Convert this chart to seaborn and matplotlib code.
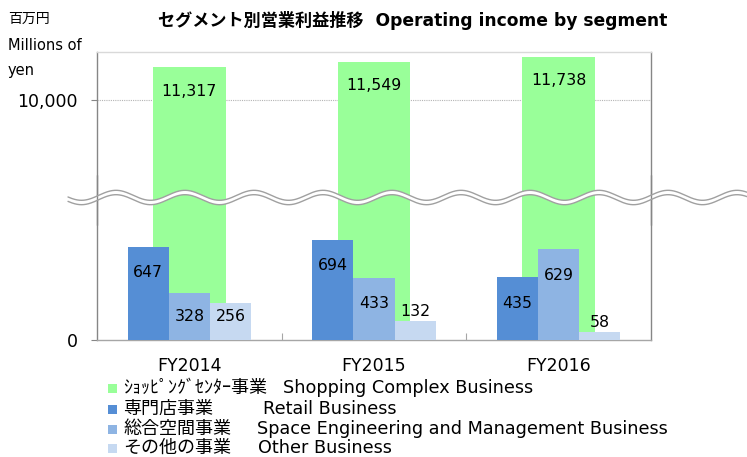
import numpy as np
import pandas as pd
import matplotlib
matplotlib.use('Agg')
import matplotlib.pyplot as plt
import seaborn as sns
from matplotlib.patches import Polygon, Rectangle
from matplotlib.lines import Line2D

# ---------------- data ----------------
years = ['FY2014', 'FY2015', 'FY2016']
shopping = [11317, 11549, 11738]
retail = [647, 694, 435]
space = [328, 433, 629]
other = [256, 132, 58]
seg_jp = ['ｼｮｯﾋﾟﾝｸﾞｾﾝﾀｰ事業', '専門店事業', '総合空間事業', 'その他の事業']
seg_en = ['Shopping Complex Business', 'Retail Business',
          'Space Engineering and Management Business', 'Other Business']
colors = ['#99FF99', '#558ED5', '#8EB4E3', '#C6D9F1']
title_jp = 'セグメント別営業利益推移'
title_en = 'Operating income by segment'
unit_lines = ['百万円', 'Millions of', 'yen']

# ---------------- style ----------------
sns.set_theme(style='white')
plt.rcParams['font.family'] = ['DejaVu Sans', 'Noto Sans CJK JP']
plt.rcParams['axes.unicode_minus'] = False

W, H = 747, 457
fig = plt.figure(figsize=(W / 100, H / 100), dpi=100)


def fx(px):
    return px / W


def fy(py):
    return 1 - py / H


L, R = 97, 651
T, B = 52, 340
BRK = 197.5
ax_top = fig.add_axes([fx(L), fy(BRK), fx(R - L), (BRK - T) / H])
ax_bot = fig.add_axes([fx(L), fy(B), fx(R - L), (B - BRK) / H])

df_green = pd.DataFrame({'year': years, 'value': shopping})
df_small = pd.DataFrame({
    'year': years * 3,
    'segment': [seg_en[1]] * 3 + [seg_en[2]] * 3 + [seg_en[3]] * 3,
    'value': retail + space + other,
})

for ax in (ax_top, ax_bot):
    sns.barplot(data=df_green, x='year', y='value', color=colors[0], width=0.395,
                saturation=1, errorbar=None, ax=ax, linewidth=0, zorder=2)
sns.barplot(data=df_small, x='year', y='value', hue='segment', hue_order=seg_en[1:],
            palette=colors[1:], width=0.667, saturation=1, errorbar=None, ax=ax_bot,
            legend=False, linewidth=0, zorder=3)

ax_top.set_ylim(5992, 11943)
ax_bot.set_ylim(0, 989)
for ax in (ax_top, ax_bot):
    ax.set_xlim(-0.5, 2.5)
    ax.set_xlabel('')
    ax.set_ylabel('')
    ax.set_facecolor('white')

# grid line at 10,000
ax_top.axhline(10000, color='#b4b4b4', lw=0.8, ls=(0, (1, 1)), zorder=1)

# y ticks
ax_top.set_yticks([10000])
ax_top.set_yticklabels(['10,000'])
ax_bot.set_yticks([0])
ax_bot.set_yticklabels(['0'])
for ax in (ax_top, ax_bot):
    ax.tick_params(axis='y', left=True, length=4, width=0.8, color='#868686',
                   labelsize=12.5, pad=10, labelcolor='black')

# x ticks
ax_top.set_xticks([])
ax_bot.set_xticks([0, 1, 2])
ax_bot.set_xticklabels(years)
ax_bot.tick_params(axis='x', which='major', bottom=False, labelsize=12.5, pad=6.5,
                   labelcolor='black')
ax_bot.set_xticks([0.5, 1.5], minor=True)
ax_bot.tick_params(axis='x', which='minor', bottom=True, direction='in', length=5,
                   width=0.8, color='#a6a6a6')

# spines
ax_top.spines['bottom'].set_visible(False)
ax_top.spines['top'].set_color('#d9d9d9')
ax_top.spines['left'].set_color('#868686')
ax_top.spines['right'].set_color('#868686')
ax_bot.spines['top'].set_visible(False)
ax_bot.spines['bottom'].set_color('#a6a6a6')
ax_bot.spines['left'].set_color('#868686')
ax_bot.spines['right'].set_color('#868686')
for ax in (ax_top, ax_bot):
    for s in ax.spines.values():
        s.set_linewidth(1)

# value labels - shopping (top axes)
for p, v in zip(ax_top.patches, shopping):
    ax_top.text(p.get_x() + p.get_width() / 2, v - 980, f'{v:,}', ha='center',
                va='center', fontsize=11.3, color='black', zorder=5)

# value labels - small segments
for cont, vals in zip(ax_bot.containers[1:], [retail, space, other]):
    for p, v in zip(cont.patches, vals):
        if v >= 200:
            yl = max(v - 180, 160)
        else:
            yl = v + 65
        ax_bot.text(p.get_x() + p.get_width() / 2, yl, f'{v:,}', ha='center',
                    va='center', fontsize=11.3, color='black', zorder=5)

# ---------------- break wave ----------------
xs = np.linspace(68, 747, 900)
yc = 197.5 - 5 * np.cos(2 * np.pi * (xs - 116) / 69)
up = yc - 2.2
lo = yc + 2.2
poly = np.column_stack([np.concatenate([fx(xs), fx(xs[::-1])]),
                        np.concatenate([fy(up), fy(lo[::-1])])])
fig.add_artist(Polygon(poly, closed=True, transform=fig.transFigure,
                       facecolor='white', edgecolor='none', zorder=10))
for xv in (L, R):
    fig.add_artist(Line2D([fx(xv), fx(xv)], [fy(175), fy(225)], transform=fig.transFigure,
                          color='#868686', lw=1, zorder=10.5))
for yy in (up, lo):
    fig.add_artist(Line2D(fx(xs), fy(yy), transform=fig.transFigure,
                          color='#a0a0a0', lw=1, zorder=11))

# ---------------- texts ----------------
fig.text(fx(158), fy(20), title_jp + '  ' + title_en, fontsize=12.3, fontweight='bold',
         ha='left', va='center', color='black')
unit_y = [19, 45, 71]
unit_fs = [10, 10.5, 10.5]
for t, yy, fs in zip(unit_lines, unit_y, unit_fs):
    fig.text(fx(8), fy(yy), t, fontsize=fs, ha='left', va='center', color='black')

# legend
leg_y = [388, 409, 429, 448]
en_x = [283, 263, 257, 258]
for c, jp, en, yy, ex in zip(colors, seg_jp, seg_en, leg_y, en_x):
    fig.add_artist(Rectangle((fx(108), fy(yy + 4.5)), fx(9), 9 / H,
                             transform=fig.transFigure, facecolor=c, edgecolor='none'))
    fig.text(fx(123), fy(yy), jp, fontsize=13, ha='left', va='center', color='black')
    fig.text(fx(ex), fy(yy), en, fontsize=12.7, ha='left', va='center', color='black')

fig.savefig('out.png', dpi=100, facecolor='white')
